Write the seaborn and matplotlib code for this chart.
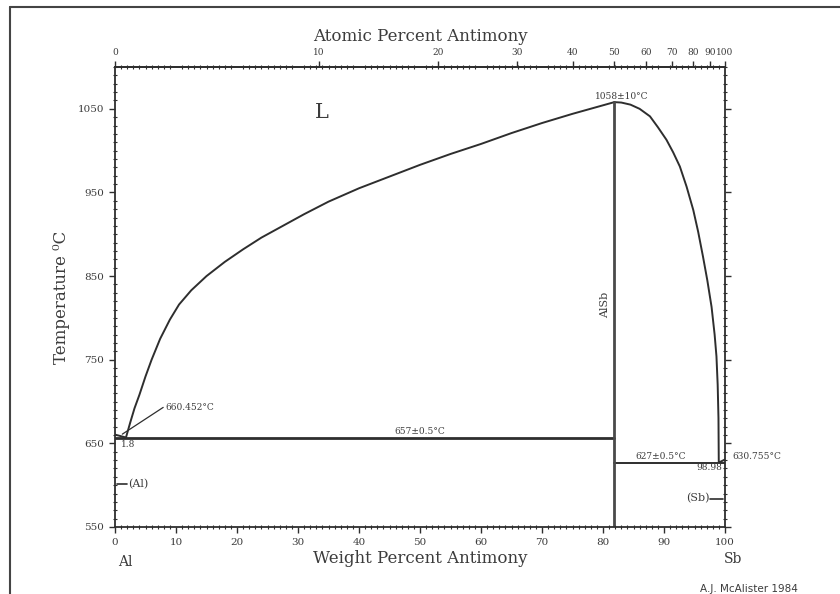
import numpy as np
import matplotlib
matplotlib.use("Agg")
import matplotlib.pyplot as plt
from matplotlib.lines import Line2D
from matplotlib.ticker import MultipleLocator, FixedLocator
import seaborn as sns
import pandas as pd

# ---- Al-Sb phase diagram data (weight percent Sb, temperature in deg C) ----
liq_al_wt = [0.0, 1.8, 2.5, 3.2, 4.0, 5.0, 6.0, 7.4, 9.0, 10.5, 12.5, 15.0, 18.0, 21.0,
             24.0, 27.5, 31.0, 35.0, 40.0, 45.0, 50.0, 55.0, 60.0, 65.0, 70.0, 75.0, 81.86]
liq_al_t = [660.452, 657, 675, 692, 708, 730, 750, 775, 798, 816, 833, 850, 867, 882,
            896, 910, 924, 939, 955, 969, 983, 996, 1008, 1021, 1033, 1044, 1058]

liq_sb_wt = [81.86, 83.0, 84.5, 86.0, 87.7, 89.0, 90.4, 91.5, 92.6, 93.7, 94.8, 95.6,
             96.4, 97.1, 97.8, 98.3, 98.6, 98.8, 98.93, 98.98, 100.0]
liq_sb_t = [1058, 1057.5, 1055, 1050, 1041, 1028, 1013, 998, 981, 957, 929, 903,
            873, 845, 813, 780, 754, 720, 680, 627, 630.755]

alsb_wt = 81.86
alsb_melt = 1058
al_melt = 660.452
eut_al_wt = 1.8
eut_al_t = 657
eut_sb_wt = 98.98
eut_sb_t = 627
sb_melt = 630.755

temp_ticks = [550, 650, 750, 850, 950, 1050]
wt_ticks = [0, 10, 20, 30, 40, 50, 60, 70, 80, 90, 100]
at_ticks = [0, 10, 20, 30, 40, 50, 60, 70, 80, 90, 100]

M_SB = 121.76
M_AL = 26.98

sns.set_style("ticks")
plt.rcParams["font.family"] = ["DejaVu Serif", "DejaVu Sans"]

INK = "#2e2e2e"
TXT = "#3c3c3c"

fig = plt.figure(figsize=(8.4, 5.94), dpi=100)
ax = fig.add_axes([115 / 840, 67 / 594, 610 / 840, 460 / 594])

lw = 1.4
df_al = pd.DataFrame({"wt": liq_al_wt, "T": liq_al_t})
df_sb = pd.DataFrame({"wt": liq_sb_wt, "T": liq_sb_t})
sns.lineplot(data=df_al, x="wt", y="T", sort=False, estimator=None, color=INK, lw=lw, ax=ax)
sns.lineplot(data=df_sb, x="wt", y="T", sort=False, estimator=None, color=INK, lw=lw, ax=ax)

# invariant lines and the AlSb compound line
sns.lineplot(x=[0, alsb_wt], y=[eut_al_t, eut_al_t], estimator=None, sort=False,
             color=INK, lw=2.0, ax=ax)
sns.lineplot(x=[alsb_wt, 100], y=[eut_sb_t, eut_sb_t], estimator=None, sort=False,
             color=INK, lw=1.4, ax=ax)
sns.lineplot(x=[alsb_wt, alsb_wt], y=[550, alsb_melt], estimator=None, sort=False,
             color="#4a4a4a", lw=2.0, ax=ax)

ax.set_xlim(0, 100)
ax.set_ylim(550, 1100)

# ticks
ax.xaxis.set_major_locator(FixedLocator(wt_ticks))
ax.xaxis.set_minor_locator(MultipleLocator(1))
ax.yaxis.set_major_locator(FixedLocator(temp_ticks))
ax.yaxis.set_minor_locator(MultipleLocator(10))
ax.set_xticklabels([str(v) for v in wt_ticks])
ax.set_yticklabels([str(v) for v in temp_ticks])
ax.tick_params(which="major", direction="out", length=4, width=1.0, color=INK,
               labelsize=7.5, labelcolor=TXT, pad=4, right=True)
ax.tick_params(which="minor", direction="inout", length=3, width=0.8, color=INK,
               top=True, bottom=True, left=True, right=True)
ax.tick_params(axis="y", which="major", labelright=False)
for s in ax.spines.values():
    s.set_color(INK)
    s.set_linewidth(1.3)

ax.set_xlabel("Weight Percent Antimony", fontsize=12, color=TXT, labelpad=2)
ax.set_ylabel("Temperature \u2070C", fontsize=12, color=TXT, labelpad=5)


def wt_to_at(w):
    w = np.asarray(w, dtype=float)
    with np.errstate(divide="ignore", invalid="ignore"):
        a = (w / M_SB) / (w / M_SB + (100 - w) / M_AL) * 100
    return a


def at_to_wt(a):
    a = np.asarray(a, dtype=float)
    with np.errstate(divide="ignore", invalid="ignore"):
        w = a * M_SB / (a * M_SB + (100 - a) * M_AL) * 100
    return w


sec = ax.secondary_xaxis("top", functions=(wt_to_at, at_to_wt))
sec.xaxis.set_major_locator(FixedLocator(at_ticks))
sec.set_xticklabels([str(v) for v in at_ticks])
sec.tick_params(which="major", direction="out", length=4, width=1.0, color=INK,
                labelsize=6.5, labelcolor=TXT, pad=3)
sec.spines["top"].set_color(INK)
sec.spines["top"].set_linewidth(1.3)
sec.set_xlabel("Atomic Percent Antimony", fontsize=12, color=TXT, labelpad=5)

# annotations
small = dict(fontsize=6.5, color=TXT)
ax.text(33.9, 1046, "L", fontsize=15, color=TXT, ha="center", va="center")
ax.text(83.0, alsb_melt + 1, "1058\u00b110\u00b0C", ha="center", va="bottom", **small)
ax.text(50.0, eut_al_t + 2, "657\u00b10.5\u00b0C", ha="center", va="bottom", **small)
ax.text(89.5, eut_sb_t + 2, "627\u00b10.5\u00b0C", ha="center", va="bottom", **small)
ax.text(99.5, eut_sb_t - 1, "98.98", ha="right", va="top", **small)
ax.text(101.2, sb_melt + 3, "630.755\u00b0C", ha="left", va="center", clip_on=False, **small)
ax.text(8.2, 693, "660.452\u00b0C", ha="left", va="center", **small)
ax.plot([1.2, 7.9], [661, 693], color=INK, lw=0.9)
ax.text(1.0, eut_al_t - 3, "1.8", ha="left", va="top", **small)
ax.text(80.4, 815, "AlSb", fontsize=8, color=TXT, rotation=90, ha="center", va="center")

ax.plot([0.3, 2.0], [601, 601], color=INK, lw=1.2)
ax.text(2.1, 601, "(Al)", fontsize=8, color=TXT, ha="left", va="center")
ax.plot([97.6, 99.7], [584, 584], color=INK, lw=1.2)
ax.text(97.4, 584, "(Sb)", fontsize=8, color=TXT, ha="right", va="center")

ax.text(1.7, 508, "Al", fontsize=10, color=TXT, ha="center", va="center", clip_on=False)
ax.text(101.3, 512, "Sb", fontsize=10, color=TXT, ha="center", va="center", clip_on=False)

fig.text(700 / 840, 10 / 594, "A.J. McAlister 1984", fontsize=7.5, color=TXT,
         family="DejaVu Sans", ha="left", va="top")

# page frame
fig.add_artist(Line2D([10 / 840, 10 / 840], [0, 1 - 7 / 594], transform=fig.transFigure,
                      color="#444444", lw=1.5))
fig.add_artist(Line2D([10 / 840, 1], [1 - 7 / 594, 1 - 7 / 594], transform=fig.transFigure,
                      color="#444444", lw=1.5))

fig.savefig("out.png", dpi=100, facecolor="white")
